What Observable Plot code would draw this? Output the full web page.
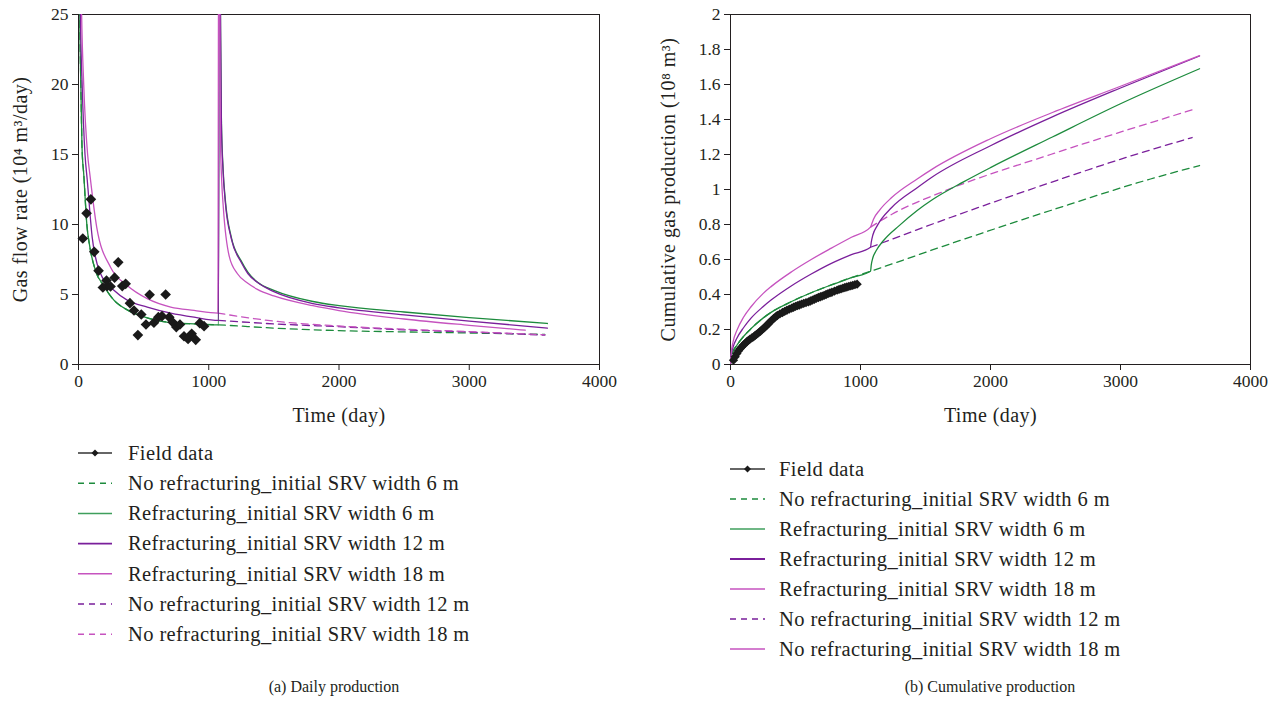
<!DOCTYPE html>
<html><head><meta charset="utf-8">
<script src="https://cdn.jsdelivr.net/npm/d3@7"></script>
<script src="https://cdn.jsdelivr.net/npm/@observablehq/plot@0.6"></script>
<style>
body{margin:0;background:#fff;}
#root{position:relative;width:1281px;height:706px;font-family:"Liberation Serif","DejaVu Serif",serif;color:#231f20;overflow:hidden;}
.abs{position:absolute;}
.caption{position:absolute;font-size:16px;transform:translateX(-50%);white-space:nowrap;top:678px;}
</style></head><body><div id="root"></div>
<script>
// ---------- Data ----------
const xTicks = [0, 1000, 2000, 3000, 4000];
const rateTicks = [0, 5, 10, 15, 20, 25];
const cumTicks = [0, 0.2, 0.4, 0.6, 0.8, 1, 1.2, 1.4, 1.6, 1.8, 2];

const legendLabels = [
  "Field data",
  "No refracturing_initial SRV width 6 m",
  "Refracturing_initial SRV width 6 m",
  "Refracturing_initial SRV width 12 m",
  "Refracturing_initial SRV width 18 m",
  "No refracturing_initial SRV width 12 m",
  "No refracturing_initial SRV width 18 m"
];

// (a) Daily production: field data
const fieldRateDay = [33, 62, 95, 121, 154, 187, 215, 220, 246, 277, 305, 336, 362, 395, 426, 456, 482, 518, 546, 579, 613, 641, 669, 697, 723, 751, 779, 810, 841, 869, 900, 931, 964];
const fieldRate    = [9.0, 10.8, 11.8, 8.05, 6.7, 5.5, 6.0, 5.6, 5.57, 6.2, 7.3, 5.6, 5.76, 4.38, 3.86, 2.1, 3.57, 2.86, 4.98, 2.98, 3.38, 3.45, 5.0, 3.38, 3.02, 2.67, 2.86, 2.02, 1.83, 2.19, 1.76, 2.95, 2.74];

// (a) model rate curves [day, 10^4 m3/day]
const rateW6Pre  = [[2,40],[10,25],[18,20],[27,15.5],[41,13.5],[64,10],[87,8.4],[131,6.7],[195,5.6],[272,4.6],[374,3.9],[503,3.4],[631,3.1],[759,2.95],[887,2.9],[1075,2.83]];
const rateW12Pre = [[3,40],[15,25],[28,20],[50,15],[67,13.2],[105,9.1],[169,6.5],[272,5.3],[374,4.6],[528,4.1],[708,3.67],[887,3.38],[1075,3.15]];
const rateW18Pre = [[5,40],[24,25],[40,20],[70,15],[87,13.6],[140,9.8],[246,6.95],[374,5.64],[528,4.7],[708,4.1],[887,3.86],[1070,3.67]];
const rateW6Refrac  = [[1075,2.83],[1080,40],[1090,25],[1097,17.6],[1110,14],[1128,11.7],[1173,9.1],[1249,7.4],[1300,6.6],[1375,5.87],[1500,5.3],[1800,4.5],[2000,4.2],[2500,3.75],[3000,3.35],[3600,2.93]];
const rateW12Refrac = [[1075,3.15],[1080,40],[1090,25],[1097,17.2],[1110,13.8],[1128,11.5],[1173,9.0],[1249,7.3],[1300,6.5],[1375,5.85],[1500,5.2],[1800,4.35],[2000,4.05],[2500,3.55],[3000,3.1],[3600,2.6]];
const rateW18Refrac = [[1070,3.67],[1078,40],[1085,25],[1090,16],[1100,13],[1112,11.2],[1158,7.7],[1219,6.5],[1300,5.8],[1377,5.35],[1500,4.9],[1800,4.2],[2000,3.85],[2500,3.25],[3000,2.8],[3430,2.45]];
const rateW6No  = [[1075,2.83],[1500,2.6],[2000,2.42],[2500,2.33],[3000,2.25],[3580,2.15]];
const rateW12No = [[1075,3.15],[1500,2.9],[2000,2.7],[2500,2.48],[3000,2.32],[3580,2.1]];
const rateW18No = [[1070,3.67],[1500,3.1],[2000,2.75],[2500,2.52],[3000,2.35],[3580,2.12]];

// (b) Cumulative production: field data [day, 10^8 m3]
const fieldCumDay = [23, 36, 49, 62, 75, 88, 100, 113, 126, 138, 150, 164, 177, 188, 200, 215, 230, 242, 254, 267, 280, 290, 300, 316, 332, 346, 360, 380, 400, 417, 434, 452, 470, 485, 500, 515, 530, 546, 563, 581, 600, 615, 630, 645, 660, 676, 692, 706, 720, 735, 750, 765, 780, 800, 820, 835, 850, 865, 880, 895, 910, 925, 940, 957, 974];
const fieldCum    = [0.025, 0.045, 0.063, 0.078, 0.091, 0.102, 0.112, 0.121, 0.13, 0.138, 0.145, 0.152, 0.158, 0.165, 0.172, 0.181, 0.19, 0.198, 0.206, 0.215, 0.225, 0.232, 0.24, 0.252, 0.263, 0.272, 0.28, 0.289, 0.297, 0.304, 0.31, 0.316, 0.322, 0.327, 0.332, 0.336, 0.34, 0.345, 0.349, 0.354, 0.358, 0.363, 0.368, 0.373, 0.378, 0.383, 0.387, 0.391, 0.395, 0.4, 0.405, 0.409, 0.413, 0.419, 0.425, 0.429, 0.432, 0.436, 0.44, 0.443, 0.446, 0.449, 0.452, 0.456, 0.459];

// (b) model cumulative curves
const cumW6Pre  = [[0,0],[5,0.04],[20,0.075],[49,0.11],[100,0.16],[158,0.205],[250,0.265],[312,0.298],[470,0.36],[621,0.41],[776,0.455],[930,0.497],[1077,0.533]];
const cumW12Pre = [[0,0],[5,0.05],[20,0.1],[49,0.15],[100,0.21],[158,0.265],[250,0.33],[312,0.368],[470,0.45],[621,0.517],[776,0.578],[930,0.628],[1077,0.67]];
const cumW18Pre = [[0,0],[5,0.06],[20,0.13],[49,0.195],[100,0.27],[158,0.33],[250,0.405],[312,0.445],[470,0.53],[621,0.6],[776,0.665],[930,0.727],[1077,0.785]];
const cumW6Refrac  = [[1077,0.533],[1083,0.57],[1095,0.61],[1120,0.65],[1179,0.71],[1300,0.795],[1436,0.88],[1549,0.94],[1796,1.045],[2000,1.125],[2476,1.3],[3000,1.49],[3608,1.69]];
const cumW12Refrac = [[1077,0.67],[1083,0.70],[1095,0.74],[1130,0.795],[1240,0.897],[1436,1.01],[1549,1.07],[2000,1.25],[2476,1.415],[3000,1.58],[3608,1.763]];
const cumW18Refrac = [[1077,0.785],[1085,0.80],[1100,0.83],[1150,0.885],[1240,0.954],[1436,1.06],[1549,1.115],[2000,1.29],[2476,1.44],[3000,1.59],[3608,1.765]];
const cumW6No  = [[1077,0.533],[1692,0.69],[2462,0.88],[3231,1.06],[3608,1.137]];
const cumW12No = [[1077,0.67],[1692,0.84],[2462,1.04],[3051,1.185],[3551,1.297]];
const cumW18No = [[1077,0.785],[1245,0.86],[1641,0.99],[2462,1.20],[3051,1.34],[3551,1.455]];

// ---------- Styles ----------
const GREEN = "#1d8b3d", PURPLE = "#7a1f9b", PINK = "#c653bf", BLACK = "#1a1a1a", INK = "#231f20";
const FONT = "Liberation Serif, DejaVu Serif, serif";
const DASH = "7,5";

const toRows = pts => pts.map(([t, v]) => ({t, v}));
function lineMark(pts, color, dashed) {
  return Plot.line(toRows(pts), {x: "t", y: "v", stroke: color, strokeWidth: 1.3,
    strokeDasharray: dashed ? DASH : null, curve: "monotone-x", clip: true});
}

function panel({width, marginLeft, marginRight, yDomain, yTicks, yLabel, yLabelDx, lines, field, dotR}) {
  const svg = Plot.plot({
    width, height: 440, marginLeft, marginRight, marginTop: 14, marginBottom: 76,
    style: {fontFamily: FONT, fontSize: "17.5px", color: INK, background: "white", overflow: "visible"},
    x: {domain: [0, 4000]},
    y: {domain: yDomain},
    marks: [
      Plot.frame({stroke: INK, strokeWidth: 1}),
      Plot.axisX({ticks: xTicks, tickSize: 6, tickPadding: 4, label: null, tickFormat: d => String(d), fontSize: 17.5}),
      Plot.axisY({ticks: yTicks, tickSize: 6, tickPadding: 4, label: null, tickFormat: d => String(d), fontSize: 17.5}),
      Plot.text(["Time (day)"], {text: d => d, frameAnchor: "bottom", dy: 57, fontSize: 20, fill: INK, className: "axis-title"}),
      Plot.text([yLabel], {text: d => d, frameAnchor: "left", textAnchor: "middle", rotate: -90, dx: yLabelDx, fontSize: 20, fill: INK, className: "axis-title"}),
      ...lines,
      Plot.dot(field.x.map((x, i) => ({x, y: field.y[i]})), {x: "x", y: "y", symbol: "diamond2", r: dotR, fill: BLACK, stroke: "none"})
    ]
  });
  svg.querySelectorAll(".axis-title text").forEach(t => t.style.letterSpacing = "0.45px");
  return svg;
}

const root = document.getElementById("root");

const left = panel({
  width: 640, marginLeft: 78, marginRight: 41, yDomain: [0, 25], yTicks: rateTicks,
  yLabel: "Gas flow rate (10⁴ m³/day)", yLabelDx: -58, dotR: 4.8,
  field: {x: fieldRateDay, y: fieldRate},
  lines: [
    lineMark([...rateW6Pre, ...rateW6No.slice(1)], GREEN, true),
    lineMark(rateW12No, PURPLE, true),
    lineMark(rateW18No, PINK, true),
    lineMark([...rateW6Pre, ...rateW6Refrac.slice(1)], GREEN, false),
    lineMark([...rateW12Pre, ...rateW12Refrac.slice(1)], PURPLE, false),
    lineMark([...rateW18Pre, ...rateW18Refrac.slice(1)], PINK, false)
  ]
});
left.classList.add("abs"); left.style.left = "0px"; left.style.top = "0px";
root.appendChild(left);

const right = panel({
  width: 641, marginLeft: 90, marginRight: 31, yDomain: [0, 2], yTicks: cumTicks,
  yLabel: "Cumulative gas production (10⁸ m³)", yLabelDx: -62, dotR: 4.2,
  field: {x: fieldCumDay, y: fieldCum},
  lines: [
    lineMark([...cumW6Pre, ...cumW6No.slice(1)], GREEN, true),
    lineMark(cumW12No, PURPLE, true),
    lineMark(cumW18No, PINK, true),
    lineMark([...cumW6Pre, ...cumW6Refrac.slice(1)], GREEN, false),
    lineMark([...cumW12Pre, ...cumW12Refrac.slice(1)], PURPLE, false),
    lineMark([...cumW18Pre, ...cumW18Refrac.slice(1)], PINK, false)
  ]
});
right.classList.add("abs"); right.style.left = "640px"; right.style.top = "0px";
root.appendChild(right);

// ---------- Legends ----------
const legendStylesA = [
  {color: "#333", dash: null, marker: true},
  {color: GREEN, dash: "6,5"},
  {color: "#3f9f5c", dash: null},
  {color: PURPLE, dash: null, w: 1.8},
  {color: PINK, dash: null},
  {color: PURPLE, dash: "6,5"},
  {color: PINK, dash: "6,5"}
];
const legendStylesB = legendStylesA.map((s, i) => i === 6 ? {color: PINK, dash: null} : s);

function legend(styles, leftPx, topPx, x1, x2, tx, step) {
  const svg = d3.create("svg").attr("width", 640).attr("height", 230)
    .attr("class", "abs").style("left", leftPx + "px").style("top", topPx + "px")
    .style("font-family", FONT).style("font-size", "20.5px").style("letter-spacing", "0.4px");
  legendLabels.forEach((label, i) => {
    const s = styles[i];
    const y = 20 + i * step;
    svg.append("line").attr("x1", x1).attr("x2", x2).attr("y1", y).attr("y2", y)
      .attr("stroke", s.color).attr("stroke-width", s.w || 1.5)
      .attr("stroke-dasharray", s.dash);
    if (s.marker) {
      const m = (x1 + x2) / 2;
      svg.append("path").attr("d", `M${m},${y-3.5}L${m+3.5},${y}L${m},${y+3.5}L${m-3.5},${y}Z`).attr("fill", BLACK);
    }
    svg.append("text").attr("x", tx).attr("y", y).attr("dy", "0.33em").attr("fill", INK).text(label);
  });
  root.appendChild(svg.node());
}
legend(legendStylesA, 0, 433, 78, 112, 128, 30.2);
legend(legendStylesB, 640, 449, 90, 125, 139, 30);

// ---------- Captions ----------
[["(a) Daily production", 334], ["(b) Cumulative production", 990]].forEach(([t, x]) => {
  const d = document.createElement("div");
  d.className = "caption"; d.style.left = x + "px"; d.textContent = t;
  root.appendChild(d);
});
</script></body></html>
